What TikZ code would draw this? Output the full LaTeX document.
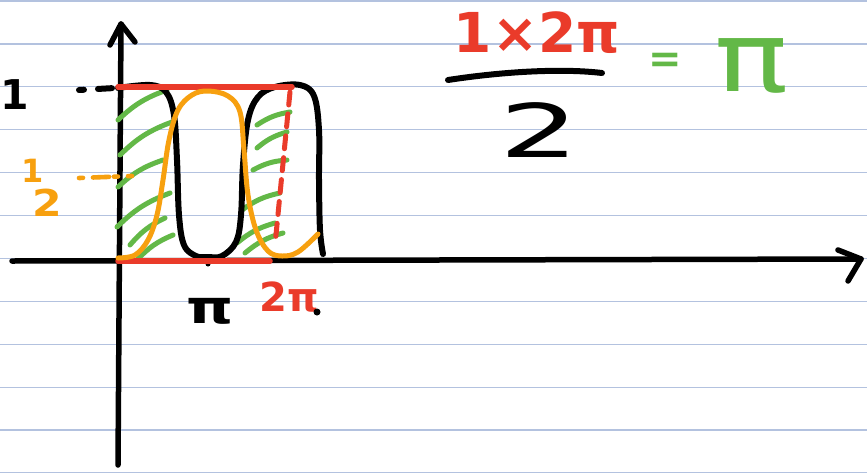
\documentclass[tikz,border=0pt]{standalone}
\usepackage{fontspec}
\setmainfont{DejaVu Sans}
\usepackage{graphicx}
\definecolor{penred}{HTML}{EA3B2A}
\definecolor{pengreen}{HTML}{63B847}
\definecolor{penorange}{HTML}{F7A00F}
\definecolor{ruleblue}{HTML}{B3C2DF}
\tikzset{
  pen/.style={line width=6pt, line cap=round, line join=round},
  hatch/.style={pen, pengreen, line width=5pt},
  ruleline/.style={ruleblue, line width=1.2pt},
  txt/.style={inner sep=0pt, outer sep=0pt, font=\bfseries},
  bigtxt/.style={inner sep=0pt, outer sep=0pt}
}
\begin{document}
\begin{tikzpicture}[x=1pt,y=-1pt]
\useasboundingbox (0,0) rectangle (867,472);
\fill[white] (0,0) rectangle (867,472);
% ruled paper
\foreach \k in {0,...,11}{
  \draw[ruleline] (0,{1+42.9*\k}) -- (867,{1+42.9*\k});
}
% axes
\coordinate (yb) at (118,465);
\coordinate (yt) at (121,24);
\coordinate (xl) at (12,261);
\coordinate (xr) at (861,259);
\draw[pen, black, line width=5.5pt] (yb) -- (yt);
\draw[pen, black, line width=5.5pt] (110,45) -- (yt) -- (135,42);
\draw[pen, black, line width=5.5pt] (xl) -- (xr);
\draw[pen, black, line width=5.5pt] (838,250) -- (xr) -- (848,281);
% green hatching
\draw[hatch] (118,120) to[bend left=12] (167,90);
\draw[hatch] (120,155) to[bend left=12] (172,122);
\draw[hatch] (118,187) to[bend left=12] (163,160);
\draw[hatch] (117,227) to[bend left=12] (170,193);
\draw[hatch] (130,245) to[bend left=12] (165,218);
\draw[hatch] (137,260) to[bend left=12] (173,235);
\draw[hatch] (257,125) to[bend left=12] (290,112);
\draw[hatch] (257,148) to[bend left=12] (287,132);
\draw[hatch] (253,170) to[bend left=12] (287,160);
\draw[hatch] (242,210) to[bend left=12] (280,193);
\draw[hatch] (237,243) to[bend left=12] (275,223);
\draw[hatch] (245,253) to[bend left=12] (283,233);
% black curve
\draw[pen, black] plot[smooth, tension=0.6] coordinates {
  (118,88) (150,85) (166,92) (174,115) (177,160) (179,215) (184,245)
  (196,256) (208,257) (222,256) (236,242) (241,215) (243,165) (248,120)
  (258,97) (275,87) (300,85) (314,96) (319,130) (319,180) (320,230) (323,254)};
\fill[black] (208,264) circle (2.5pt);
% red lines
\draw[pen, penred, line width=5.5pt] (118,87) -- (292,87);
\draw[pen, penred, line width=5.5pt] (118,261) -- (270,261);
\draw[pen, penred, line width=5pt, dash pattern=on 13pt off 9pt] (290,92) -- (275,245);
% orange curve
\draw[pen, penorange, line width=5pt] plot[smooth, tension=0.6] coordinates {
  (118,258) (135,255) (148,240) (157,215) (163,180) (169,140) (178,110)
  (192,95) (208,91) (228,96) (240,112) (244,150) (248,195) (256,230)
  (268,251) (282,256) (298,252) (318,234)};
% tick marks
\draw[pen, black, dash pattern=on 5pt off 14pt on 14pt off 100pt] (79,90) -- (115,88);
\draw[pen, penorange, line width=4.6pt, dash pattern=on 4pt off 10pt on 16pt off 5pt] (79,178) -- (132,176);
% labels
\node[txt] (one) at (15,95) {\fontsize{41}{41}\selectfont 1};
\node[txt, text=penorange] (half1) at (33,171) {\fontsize{32}{32}\selectfont 1};
\node[txt, text=penorange] (half2) at (47,203) {\scalebox{1.15}[1]{\fontsize{37}{37}\selectfont 2}};
\node[txt] (pi) at (210,311) {\scalebox{1.3}[1]{\fontsize{46}{46}\selectfont π}};
\node[txt, text=penred] (twopi) at (289,297) {\fontsize{40}{40}\selectfont 2π};
\fill[black] (317,312) circle (3.5pt);
% formula
\node[txt, text=penred] (num) at (537,33) {\fontsize{55}{55}\selectfont 1×2π};
\draw[pen, black, line width=6pt] (448,80) .. controls (500,72) and (560,68) .. (602,73);
\node[bigtxt] (den) at (540,130) {\scalebox{1.7}[1]{\fontsize{74}{74}\selectfont 2}};
\node[txt, text=pengreen] (eq) at (665,63) {\fontsize{40}{40}\selectfont =};
\node[bigtxt, text=pengreen] (res) at (752,66) {\scalebox{1.4}[1.1]{\fontsize{88}{88}\selectfont π}};
\end{tikzpicture}
\end{document}
